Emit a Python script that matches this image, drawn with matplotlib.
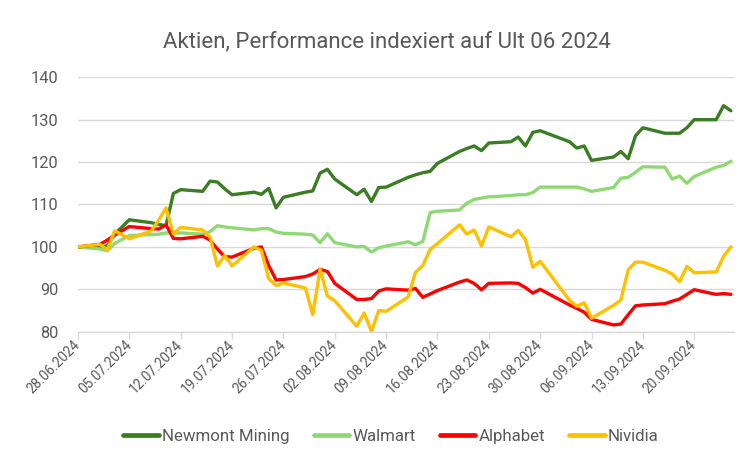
import matplotlib
matplotlib.use("Agg")
import matplotlib.pyplot as plt
import matplotlib.dates as mdates
import pandas as pd

plt.rcParams['font.family'] = ['Roboto', 'DejaVu Sans']

dates = ["2024-06-28", "2024-07-01", "2024-07-02", "2024-07-03", "2024-07-05",
         "2024-07-08", "2024-07-09", "2024-07-10", "2024-07-11", "2024-07-12",
         "2024-07-15", "2024-07-16", "2024-07-17", "2024-07-18", "2024-07-19",
         "2024-07-22", "2024-07-23", "2024-07-24", "2024-07-25", "2024-07-26",
         "2024-07-29", "2024-07-30", "2024-07-31", "2024-08-01", "2024-08-02",
         "2024-08-05", "2024-08-06", "2024-08-07", "2024-08-08", "2024-08-09",
         "2024-08-12", "2024-08-13", "2024-08-14", "2024-08-15", "2024-08-16",
         "2024-08-19", "2024-08-20", "2024-08-21", "2024-08-22", "2024-08-23",
         "2024-08-26", "2024-08-27", "2024-08-28", "2024-08-29", "2024-08-30",
         "2024-09-03", "2024-09-04", "2024-09-05", "2024-09-06",
         "2024-09-09", "2024-09-10", "2024-09-11", "2024-09-12", "2024-09-13",
         "2024-09-16", "2024-09-17", "2024-09-18", "2024-09-19", "2024-09-20",
         "2024-09-23", "2024-09-24", "2024-09-25"]

newmont = [100.0, 99.8, 100.3, 103.0, 106.4,
           105.7, 105.3, 105.0, 112.6, 113.5,
           113.1, 115.5, 115.3, 113.7, 112.3,
           112.9, 112.4, 113.8, 109.2, 111.7,
           112.9, 113.2, 117.4, 118.3, 116.0,
           112.3, 113.6, 110.7, 114.0, 114.1,
           116.4, 117.0, 117.5, 117.8, 119.7,
           122.5, 123.2, 123.8, 122.7, 124.5,
           124.8, 125.9, 123.8, 127.0, 127.4,
           124.8, 123.3, 123.8, 120.4,
           121.2, 122.5, 120.8, 126.2, 128.1,
           126.8, 126.8, 126.8, 128.1, 130.0,
           130.0, 133.3, 132.1]

walmart = [100.0, 99.5, 99.1, 100.8, 102.7,
           102.9, 103.0, 103.3, 103.2, 103.3,
           103.0, 103.6, 105.0, 104.7, 104.5,
           104.0, 104.3, 104.3, 103.5, 103.2,
           103.0, 102.8, 101.0, 103.1, 101.0,
           100.0, 100.1, 98.8, 99.8, 100.2,
           101.2, 100.5, 101.3, 108.1, 108.4,
           108.7, 110.3, 111.2, 111.5, 111.8,
           112.1, 112.3, 112.3, 112.8, 114.1,
           114.1, 114.1, 113.7, 113.1,
           114.0, 116.2, 116.4, 117.6, 118.9,
           118.8, 116.0, 116.7, 115.0, 116.6,
           118.8, 119.2, 120.2]

alphabet = [100.0, 100.6, 101.6, 102.8, 104.8,
            104.3, 104.2, 105.2, 102.0, 101.9,
            102.5, 101.6, 99.5, 97.7, 97.6,
            99.7, 100.0, 95.6, 92.2, 92.3,
            93.0, 93.6, 94.7, 94.2, 91.4,
            87.6, 87.6, 87.8, 89.6, 90.1,
            89.8, 90.2, 88.1, 88.9, 89.7,
            91.7, 92.2, 91.4, 89.9, 91.4,
            91.5, 91.4, 90.4, 89.1, 90.0,
            86.3, 85.5, 84.6, 82.9,
            81.6, 81.8, 84.0, 86.1, 86.3,
            86.6, 87.2, 87.7, 88.8, 89.9,
            88.8, 89.0, 88.8]

nvidia = [100.0, 100.6, 99.3, 103.8, 101.9,
          103.8, 106.3, 109.2, 103.1, 104.6,
          104.0, 102.3, 95.5, 98.0, 95.5,
          100.0, 99.2, 92.5, 90.9, 91.5,
          90.3, 84.0, 94.7, 88.4, 87.3,
          81.3, 84.4, 80.1, 85.0, 84.8,
          88.2, 94.0, 95.6, 99.4, 100.8,
          105.2, 103.0, 104.0, 100.2, 104.7,
          102.4, 103.9, 101.7, 95.2, 96.6,
          87.4, 86.0, 86.8, 83.2,
          86.2, 87.5, 94.6, 96.4, 96.4,
          94.5, 93.6, 91.8, 95.4, 93.9,
          94.1, 97.8, 100.0]

series_names = ["Newmont Mining", "Walmart", "Alphabet", "Nividia"]
series_colors = ["#3B7D23", "#8ED973", "#FF0000", "#FFC000"]
title = "Aktien, Performance indexiert auf Ult 06 2024"
y_ticks = [80, 90, 100, 110, 120, 130, 140]

x = pd.to_datetime(dates)

fig = plt.figure(figsize=(7.52, 4.57), dpi=100)
ax = fig.add_axes([0.1037, 0.2742, 0.8723, 0.5567])

for vals, name, col in zip([newmont, walmart, alphabet, nvidia], series_names, series_colors):
    ax.plot(x, vals, color=col, lw=2.4, label=name, solid_joinstyle='round',
            solid_capstyle='round')

ax.set_ylim(80, 140)
ax.set_yticks(y_ticks)
ax.set_xlim(x[0], x[-1] + pd.Timedelta(hours=10))
xt = pd.date_range(x[0], x[-1], freq="7D")
ax.set_xticks(xt)
ax.xaxis.set_major_formatter(mdates.DateFormatter("%d.%m.%Y"))

ax.grid(axis='y', color='#D9D9D9', lw=1)
ax.set_axisbelow(True)
for s in ['top', 'right', 'left']:
    ax.spines[s].set_visible(False)
ax.spines['bottom'].set_color('#D9D9D9')
ax.spines['bottom'].set_linewidth(1)

ax.tick_params(axis='y', length=0, pad=14, labelsize=11.8, labelcolor='#595959')
ax.tick_params(axis='x', length=5, width=1, color='#D9D9D9', pad=3,
               labelsize=9.8, labelcolor='#595959')
for lbl in ax.get_xticklabels():
    lbl.set_rotation(45)
    lbl.set_ha('right')
    lbl.set_va('center')
    lbl.set_rotation_mode('anchor')

fig.text(0.514, 0.908, title, ha='center', va='center', fontsize=16, color='#595959')

fig.legend(loc='center', bbox_to_anchor=(0.52, 0.044), ncol=4, frameon=False,
           fontsize=12.2, labelcolor='#595959', handlelength=2.1, handletextpad=0.2,
           columnspacing=1.4)
for line in fig.legends[0].get_lines():
    line.set_linewidth(3.4)

fig.savefig("out.png", dpi=100)
